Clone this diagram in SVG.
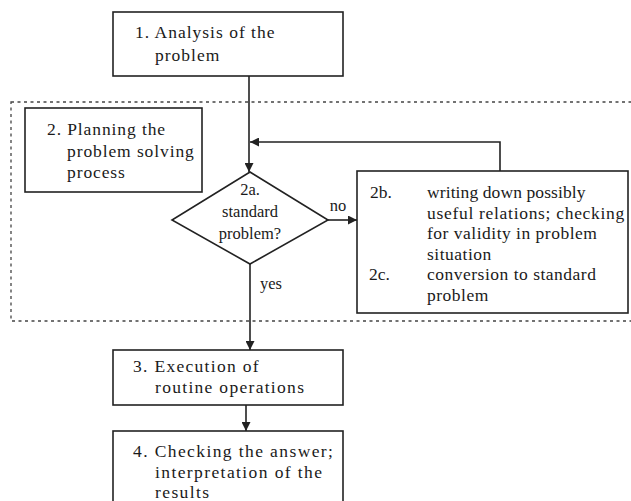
<svg xmlns="http://www.w3.org/2000/svg" width="631" height="501" viewBox="0 0 631 501">
<defs>
<style>
.box{fill:none;stroke:#222;stroke-width:1.6}
.ln{fill:none;stroke:#222;stroke-width:1.6}
.dash{fill:none;stroke:#444;stroke-width:1.3;stroke-dasharray:3 3.5}
text{font-family:"Liberation Serif","Times New Roman",serif;font-size:17.5px;fill:#1a1a1a}
.d text{font-size:16.5px}
</style>
<marker id="ah" viewBox="0 0 10 10" refX="10" refY="5" markerWidth="9" markerHeight="9" markerUnits="userSpaceOnUse" orient="auto">
<path d="M0,0 L10,5 L0,10 z" fill="#222"/>
</marker>
</defs>
<rect width="631" height="501" fill="#fff"/>
<g id="planning-region">
<rect class="dash" x="11" y="102" width="640" height="219"/>
</g>
<g id="n1">
<rect class="box" x="113" y="12" width="230" height="64"/>
<text x="135" y="38" letter-spacing="1">1. Analysis of the</text>
<text x="155" y="61" letter-spacing="1">problem</text>
</g>
<g id="n2">
<rect class="box" x="25" y="108" width="177" height="84"/>
<text x="47" y="135" letter-spacing="0.9">2. Planning the</text>
<text x="67" y="157" letter-spacing="0.9">problem solving</text>
<text x="67" y="178" letter-spacing="0.9">process</text>
</g>
<g id="n2a" class="d">
<polygon class="box" points="250,172 328,220 250,264 172,220"/>
<text x="250" y="195" text-anchor="middle">2a.</text>
<text x="250" y="217" text-anchor="middle">standard</text>
<text x="250" y="239" text-anchor="middle">problem?</text>
</g>
<g id="n2b">
<rect class="box" x="357" y="171" width="271" height="142"/>
<text x="370" y="198">2b.</text>
<text x="427" y="198" letter-spacing="0.1">writing down possibly</text>
<text x="427" y="218.5" letter-spacing="0.7">useful relations; checking</text>
<text x="427" y="239" letter-spacing="0.5">for validity in problem</text>
<text x="427" y="259.5" letter-spacing="0.5">situation</text>
<text x="369" y="280">2c.</text>
<text x="427" y="280" letter-spacing="0.5">conversion to standard</text>
<text x="427" y="300.5" letter-spacing="0.5">problem</text>
</g>
<g id="n3">
<rect class="box" x="113" y="350" width="230" height="55"/>
<text x="133" y="372" letter-spacing="1.3">3. Execution of</text>
<text x="155" y="393" letter-spacing="1.3">routine operations</text>
</g>
<g id="n4">
<rect class="box" x="113" y="431" width="230" height="80"/>
<text x="133" y="457" letter-spacing="1.4">4. Checking the answer;</text>
<text x="155" y="478" letter-spacing="1.4">interpretation of the</text>
<text x="155" y="498" letter-spacing="1.4">results</text>
</g>
<g id="connectors">
<path class="ln" d="M249,76 V172" marker-end="url(#ah)"/>
<path class="ln" d="M500,171 V142 H250" marker-end="url(#ah)"/>
<path class="ln" d="M328,220 H357" marker-end="url(#ah)"/>
<path class="ln" d="M250,264 V350" marker-end="url(#ah)"/>
<path class="ln" d="M246,405 V431" marker-end="url(#ah)"/>
<text x="338" y="211" text-anchor="middle" style="font-size:16.5px">no</text>
<text x="260" y="289" style="font-size:16.5px">yes</text>
</g>
</svg>
